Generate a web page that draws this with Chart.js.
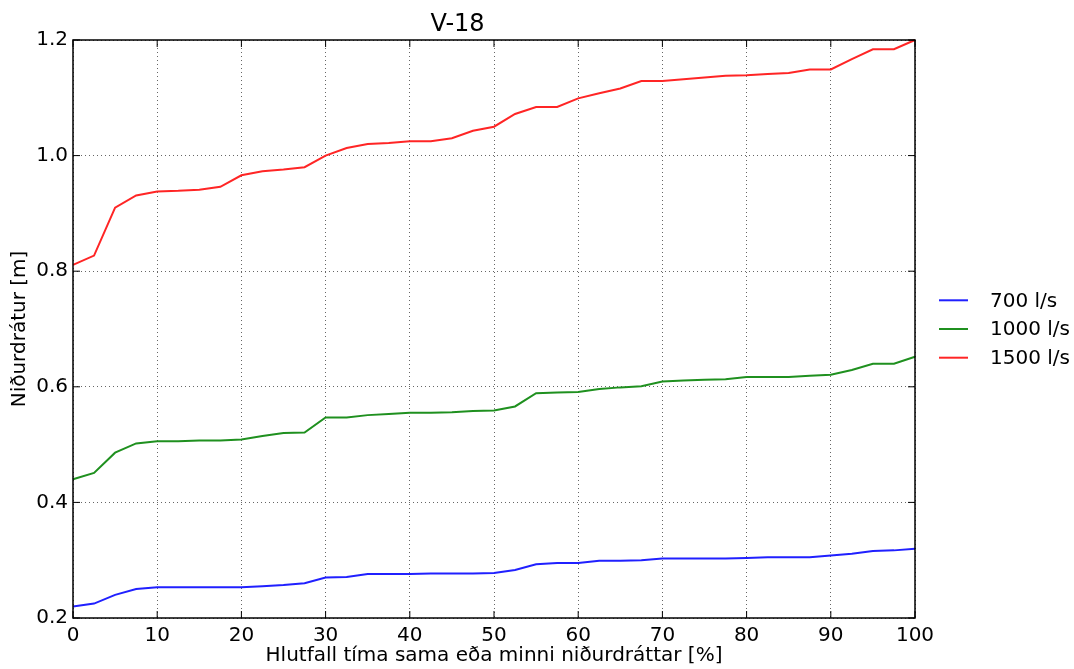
<!DOCTYPE html>
<html>
<head>
<meta charset="utf-8">
<title>V-18</title>
<script src="https://cdn.jsdelivr.net/npm/chart.js@4"></script>
<style>
    html, body { margin: 0; padding: 0; background: #fff; }
    canvas { display: block; }
</style>
</head>
<body>
<canvas id="chart" width="1074" height="669"></canvas>
<script>
// Hlutfall tíma (x) og niðurdráttur (y) fyrir þrjú rennsli
const xPercent = [0, 2.5, 5, 7.5, 10, 12.5, 15, 17.5, 20, 22.5, 25, 27.5, 30, 32.5, 35, 37.5,
    40, 42.5, 45, 47.5, 50, 52.5, 55, 57.5, 60, 62.5, 65, 67.5, 70, 72.5, 75, 77.5,
    80, 82.5, 85, 87.5, 90, 92.5, 95, 97.5, 100];

const flow700 = [0.220, 0.225, 0.240, 0.250, 0.253, 0.253, 0.253, 0.253, 0.253, 0.255, 0.257,
    0.260, 0.270, 0.271, 0.276, 0.276, 0.276, 0.277, 0.277, 0.277, 0.278, 0.283, 0.293,
    0.295, 0.295, 0.299, 0.299, 0.300, 0.303, 0.303, 0.303, 0.303, 0.304, 0.305, 0.305,
    0.305, 0.308, 0.311, 0.316, 0.317, 0.320];

const flow1000 = [0.440, 0.451, 0.486, 0.502, 0.506, 0.506, 0.507, 0.507, 0.509, 0.515, 0.520,
    0.521, 0.547, 0.547, 0.551, 0.553, 0.555, 0.555, 0.556, 0.558, 0.559, 0.566, 0.589,
    0.590, 0.591, 0.596, 0.599, 0.601, 0.609, 0.611, 0.612, 0.613, 0.617, 0.617, 0.617,
    0.619, 0.621, 0.629, 0.640, 0.640, 0.652];

const flow1500 = [0.811, 0.827, 0.910, 0.931, 0.938, 0.939, 0.941, 0.946, 0.966, 0.973, 0.976,
    0.980, 1.000, 1.013, 1.020, 1.022, 1.025, 1.025, 1.030, 1.043, 1.050, 1.072, 1.084,
    1.084, 1.099, 1.108, 1.116, 1.129, 1.129, 1.132, 1.135, 1.138, 1.139, 1.141, 1.143,
    1.149, 1.149, 1.167, 1.184, 1.184, 1.200];

const seriesLabels = ['700 l/s', '1000 l/s', '1500 l/s'];
const seriesColors = ['#2020ff', '#1f901f', '#ff2525'];

const FONT = "'DejaVu Sans', Verdana, sans-serif";
Chart.defaults.font.family = FONT;
Chart.defaults.font.size = 20;
Chart.defaults.color = '#000';

function toPoints(ys) {
    return ys.map((y, i) => ({ x: xPercent[i], y: y }));
}

// Rammi utan um teiknisvæðið og litlir innvísandi tikkar
const framePlugin = {
    id: 'frame',
    afterDatasetsDraw(chart) {
        const { ctx, chartArea: a, scales } = chart;
        const len = 7;
        ctx.save();
        ctx.strokeStyle = '#000';
        ctx.lineWidth = 1.5;
        ctx.strokeRect(a.left, a.top, a.right - a.left, a.bottom - a.top);
        ctx.lineWidth = 1;
        ctx.beginPath();
        scales.x.ticks.forEach(t => {
            const px = scales.x.getPixelForValue(t.value);
            ctx.moveTo(px, a.bottom); ctx.lineTo(px, a.bottom - len);
            ctx.moveTo(px, a.top); ctx.lineTo(px, a.top + len);
        });
        scales.y.ticks.forEach(t => {
            const py = scales.y.getPixelForValue(t.value);
            ctx.moveTo(a.left, py); ctx.lineTo(a.left + len, py);
            ctx.moveTo(a.right, py); ctx.lineTo(a.right - len, py);
        });
        ctx.stroke();
        ctx.restore();
    }
};

// Skýringar hægra megin við grafið
const sideLegend = {
    id: 'sideLegend',
    afterDraw(chart) {
        const { ctx, chartArea: a } = chart;
        const mid = (a.top + a.bottom) / 2;
        const rowH = 28.7;
        ctx.save();
        ctx.font = '20px ' + FONT;
        ctx.textBaseline = 'middle';
        ctx.textAlign = 'left';
        chart.data.datasets.forEach((ds, i) => {
            const y = mid + (i - 1) * rowH;
            ctx.strokeStyle = ds.borderColor;
            ctx.lineWidth = 2;
            ctx.beginPath();
            ctx.moveTo(a.right + 24, y);
            ctx.lineTo(a.right + 53, y);
            ctx.stroke();
            ctx.fillStyle = '#000';
            ctx.fillText(ds.label, a.right + 75, y + 1);
        });
        ctx.restore();
    }
};

const gridStyle = {
    color: 'rgba(0, 0, 0, 0.6)',
    lineWidth: 1,
    drawTicks: false
};

new Chart(document.getElementById('chart'), {
    type: 'line',
    data: {
        datasets: [0, 1, 2].map(i => ({
            label: seriesLabels[i],
            data: toPoints([flow700, flow1000, flow1500][i]),
            borderColor: seriesColors[i],
            backgroundColor: seriesColors[i],
            borderWidth: 2,
            pointRadius: 0,
            tension: 0,
            fill: false,
            clip: 4
        }))
    },
    options: {
        responsive: false,
        animation: false,
        devicePixelRatio: 1,
        layout: {
            padding: { top: 0, right: 159, bottom: 0, left: 0 }
        },
        plugins: {
            legend: { display: false },
            tooltip: { enabled: false },
            title: {
                display: true,
                text: 'V-18',
                font: { size: 24, weight: 'normal' },
                color: '#000',
                padding: { top: 10, bottom: 1.2 }
            }
        },
        scales: {
            x: {
                type: 'linear',
                min: 0,
                max: 100,
                grid: gridStyle,
                border: { display: false, dash: [1, 3] },
                ticks: {
                    stepSize: 10,
                    padding: 6,
                    maxRotation: 0,
                    font: { size: 20 }
                },
                title: {
                    display: true,
                    text: 'Hlutfall tíma sama eða minni niðurdráttar [%]',
                    font: { size: 20 },
                    padding: { top: 0, bottom: 1 }
                },
                afterFit(scale) { scale.height = 51; }
            },
            y: {
                type: 'linear',
                min: 0.2,
                max: 1.2,
                grid: gridStyle,
                border: { display: false, dash: [1, 3] },
                ticks: {
                    stepSize: 0.2,
                    padding: 5,
                    font: { size: 20 },
                    callback: v => v.toFixed(1)
                },
                title: {
                    display: true,
                    text: 'Niðurdrátur [m]',
                    font: { size: 20 },
                    padding: { top: 8, bottom: 0 }
                },
                afterFit(scale) { scale.width = 73; }
            }
        }
    },
    plugins: [framePlugin, sideLegend]
});
</script>
</body>
</html>
